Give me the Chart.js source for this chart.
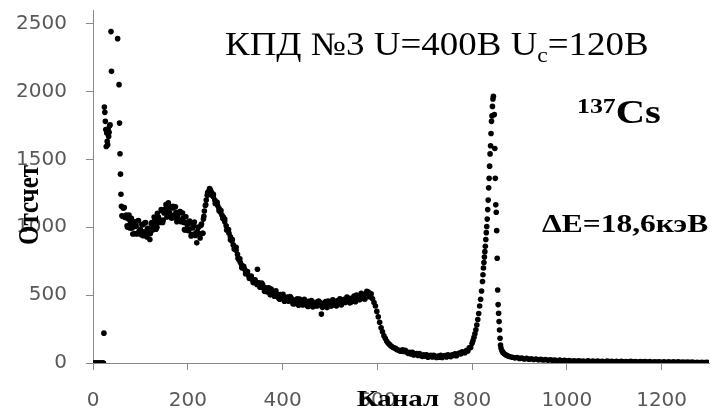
<!DOCTYPE html>
<html>
<head>
<meta charset="utf-8">
<script src="https://cdn.jsdelivr.net/npm/chart.js@4.4.1/dist/chart.umd.min.js"></script>
<style>
    html, body { margin: 0; padding: 0; background: #ffffff; }
    #grafico { width: 714px; height: 410px; }
</style>
</head>
<body>
<div id="grafico"><canvas id="spektr"></canvas></div>
<script>
// channel numbers (x) and counts (y)
var kanaly = [
    1, 3, 5, 7, 9, 11, 13, 15, 17, 19, 21, 22, 23,
    24, 25, 26, 27, 28, 29, 30, 31, 32, 33, 34, 35, 36, 38, 39, 52, 55, 56, 57, 58, 59,
    60, 63, 66, 69, 72, 75, 78, 81, 84, 87, 90, 93, 96, 99, 102, 105, 108, 111, 114, 117,
    120, 123, 126, 129, 132, 135, 138, 141, 144, 147, 150, 153, 156, 159, 162, 165, 168, 171, 174, 177,
    180, 183, 186, 189, 192, 195, 198, 201, 204, 207, 210, 213, 216, 219, 222, 225, 228, 231,
    233, 235, 237, 239, 241, 243, 245, 247, 249, 251, 254, 257, 260, 263, 266, 269, 272, 275, 278,
    281, 284, 287, 290, 293, 296, 299, 302, 305, 308, 311, 314, 317, 320, 323, 326, 329, 332, 335,
    338, 341, 344, 347,
    350, 353, 356, 359, 362, 365, 368, 371, 374, 377, 380, 383, 386, 389, 392, 395, 398, 401, 404,
    407, 410, 413, 416, 419, 422, 425, 428, 431, 434, 437, 440, 443, 446, 449, 452, 455, 458, 461,
    464, 467, 470, 473, 476, 479, 482, 485, 488, 491, 494, 497, 500, 503, 506, 509, 512, 515, 518,
    521, 524, 527, 530, 533, 536, 539, 542, 545, 548, 551, 554, 557, 560, 563, 566, 569, 572, 575,
    578, 581, 584, 587, 590, 593, 596, 599, 602, 605, 608, 611, 614, 617, 620, 623, 626, 629, 632,
    635, 638, 641, 644, 647, 650,
    653, 656, 659, 662, 665, 668, 671, 674, 677, 680, 683, 686, 689, 692, 695, 698, 701, 704, 707,
    710, 713, 716, 719, 722, 725, 728, 731, 734, 737, 740, 743, 746, 749, 752, 755, 758, 761, 764,
    767, 770, 773, 776, 779, 782, 785, 788, 791, 794, 797, 800,
    802, 804, 806, 808, 810, 812, 814, 816, 818, 820, 822, 823, 824, 825, 826, 827, 828, 829, 830,
    831, 832, 833, 834, 835, 836, 837, 838, 839, 840, 841, 842, 843, 844, 845,
    847, 848, 849, 850, 851, 852, 853, 854, 855, 856, 857, 858, 859, 860, 861, 863, 865, 868, 871,
    874, 877, 880,
    885, 890, 895, 900, 905, 910, 915, 920, 925, 930, 935, 940, 945, 950, 955, 960, 965, 970, 975,
    980, 985, 990, 995, 1000, 1005, 1010, 1015, 1020, 1025, 1030, 1035, 1040, 1045, 1050, 1055,
    1060, 1065, 1070, 1075, 1080, 1085, 1090, 1095, 1100, 1105, 1110, 1115, 1120, 1125, 1130, 1135,
    1140, 1145, 1150, 1155, 1160, 1165, 1170, 1175, 1180, 1185, 1190, 1195, 1200, 1205, 1210, 1215,
    1220, 1225, 1230, 1235, 1240, 1245, 1250, 1255, 1260, 1265, 1270, 1275, 1280, 1285, 1290, 1295, 1300
];
var otschety = [
    0, 0, 0, 0, 0, 0, 0, 0, 0, 0, 0, 0, 220,
    1885, 1846, 1780, 1720, 1595, 1694, 1632, 1608, 1723, 1669, 1700, 1748, 1755, 2441, 2148, 2389, 2050, 1767, 1541, 1391, 1243,
    1155, 1080, 1145, 1070, 1010, 1060, 995, 1065, 950, 1005, 1020, 950, 1050, 975, 945, 1018, 966, 1035, 928, 990,
    910, 1025, 980, 1075, 1030, 1000, 1075, 1035, 1130, 1035, 1105, 1135, 1075, 1180, 1105, 1073, 1142, 1088, 1150, 1040,
    1100, 1115, 1040, 1105, 1035, 980, 1035, 975, 1045, 935, 995, 1010, 940, 885, 1000, 950, 1015, 955,
    1060, 1120, 1160, 1200, 1235, 1255, 1270, 1280, 1265, 1250, 1225, 1200, 1185, 1160, 1140, 1110, 1090, 1075, 1040,
    1010, 985, 955, 930, 900, 870, 850, 830, 800, 760, 740, 720, 700, 690, 670, 655, 640, 630, 620,
    610, 600, 595, 690,
    590, 559, 588, 554, 529, 553, 524, 553, 502, 524, 527, 492, 531, 496, 477, 505, 479, 506, 455,
    480, 485, 457, 489, 458, 436, 464, 439, 472, 425, 451, 459, 428, 470, 438, 422, 454, 430, 460,
    412, 439, 447, 422, 456, 427, 360, 439, 416, 452, 408, 438, 449, 420, 465, 435, 424, 459, 438,
    472, 428, 458, 470, 447, 485, 459, 443, 476, 455, 493, 451, 482, 494, 467, 513, 485, 474, 509,
    528, 522, 486, 510, 473, 445, 420, 380, 340, 300, 260, 230, 200, 180, 160, 145, 135, 125, 118,
    112, 108, 100, 96, 90, 86,
    98, 85, 94, 81, 71, 79, 67, 79, 59, 67, 69, 55, 69, 56, 49, 60, 51, 61, 42,
    52, 56, 45, 57, 47, 40, 51, 42, 56, 40, 50, 55, 44, 60, 51, 46, 61, 55, 68,
    53, 66, 73, 66, 83, 77, 75, 91, 89, 112, 115, 145,
    165, 190, 215, 245, 280, 320, 365, 420, 470, 530, 600, 650, 700, 740, 780, 820, 860, 910, 960,
    1005, 1060, 1130, 1200, 1290, 1360, 1450, 1540, 1600, 1690, 1780, 1820, 1890, 1945, 1964,
    1830, 1580, 1360, 1165, 1110, 975, 772, 538, 430, 366, 305, 243, 182, 133, 110, 90, 78, 68, 60,
    55, 50, 46,
    42, 38, 40, 34, 36, 30, 34, 28, 31, 26, 29, 24, 27, 22, 25, 20, 24, 19, 22,
    17, 21, 16, 19, 15, 18, 13, 16, 12, 17, 12, 15, 11, 16, 11, 14,
    10, 15, 10, 13, 9, 14, 10, 12, 9, 13, 8, 12, 9, 11, 8, 12,
    8, 10, 7, 11, 8, 10, 7, 10, 6, 9, 7, 9, 6, 9, 6, 8,
    5, 8, 6, 8, 5, 7, 5, 7, 5, 7, 4, 6, 4, 6, 4, 5, 4
];
// in-between channels of the noisy stretches (the band there is thick)
var kanalyMezhdu = [
    61, 64, 67, 70, 73, 76, 79, 82, 85, 88, 91, 94, 97, 100, 103, 106, 109, 112, 115, 118,
    121, 124, 127, 130, 133, 136, 139, 142, 145, 148, 151, 154, 157, 160, 163, 166, 169, 172, 175, 178,
    181, 184, 187, 190, 193, 196, 199, 202, 205, 208, 211, 214, 217, 220, 223, 226, 229, 232,
    234, 238, 242, 246, 250, 254, 258, 262, 266, 270, 274, 278, 282, 286, 290, 294, 298, 302,
    306, 310, 314, 318, 322, 326, 330, 334, 338, 342, 346,
    352, 358, 364, 370, 376, 382, 388, 394, 400, 406, 412, 418, 424, 430, 436, 442, 448, 454, 460, 466,
    472, 478, 484, 490, 496, 502, 508, 514, 520, 526, 532, 538, 544, 550, 556, 562, 568, 574, 580, 586
];
var otschetyMezhdu = [
    1085, 1140, 1075, 1090, 1000, 1090, 1027, 992, 1042, 953, 1008, 1045, 970, 985, 1020, 937, 1031, 949, 992, 965,
    953, 1035, 1000, 1045, 985, 1103, 1063, 1050, 1123, 1052, 1118, 1167, 1097, 1115, 1150, 1066, 1155, 1070, 1108, 1078,
    1057, 1115, 1050, 1067, 982, 1077, 1017, 982, 1033, 948, 1003, 1038, 958, 968, 1000, 921, 1023, 955,
    1080, 1165, 1255, 1285, 1238, 1243, 1175, 1183, 1122, 1123, 1065, 1060, 980, 983, 908, 910, 839, 852,
    772, 767, 702, 712, 657, 673, 622, 641, 592, 613, 578,
    559, 577, 527, 543, 545, 496, 507, 470, 499, 470, 456, 480, 437, 460, 471, 430, 448, 417, 452, 429,
    420, 449, 410, 440, 456, 422, 445, 421, 462, 447, 445, 479, 447, 480, 500, 468, 494, 471, 514, 491
];
var tikiX = [0, 200, 400, 600, 800, 1000, 1200];
var tikiY = [0, 500, 1000, 1500, 2000, 2500];

var zagolovok = 'КПД №3 U=400В U';
var indeks = 'с';
var zagolovokKonec = '=120В';
var izotopMassa = '137';
var izotop = 'Cs';
var razreshenie = 'ΔE=18,6кэВ';
var podpisX = 'Канал';
var podpisY = 'Отсчет';

var tochki = [];
for (var i = 0; i < kanaly.length; i++) {
    tochki.push({ x: kanaly[i], y: otschety[i] });
}
for (var j = 0; j < kanalyMezhdu.length; j++) {
    tochki.push({ x: kanalyMezhdu[j], y: otschetyMezhdu[j] });
}

var seryi = '#898989';
var shriftTikov = { family: '"DejaVu Sans"', size: 20 };

// horizontally stretched text, the picture is a bit wider than tall
function pisat(ctx, tekst, x, y, shrift, rastyazhka) {
    ctx.save();
    ctx.font = shrift;
    ctx.translate(x, y);
    ctx.scale(rastyazhka, 1);
    ctx.fillText(tekst, 0, 0);
    var shirina = ctx.measureText(tekst).width * rastyazhka;
    ctx.restore();
    return shirina;
}

var nadpisi = {
    id: 'nadpisi',
    afterDraw: function (chart) {
        var ctx = chart.ctx;
        ctx.save();
        ctx.fillStyle = '#000000';
        ctx.textBaseline = 'alphabetic';
        ctx.textAlign = 'left';

        var x = 225;
        x += pisat(ctx, zagolovok, x, 55, '33px "Liberation Serif"', 1.12);
        x += pisat(ctx, indeks, x, 62, '21px "Liberation Serif"', 1.12);
        pisat(ctx, zagolovokKonec, x, 55, '33px "Liberation Serif"', 1.12);

        var w = pisat(ctx, izotopMassa, 577, 113, 'bold 21px "Liberation Serif"', 1.23);
        pisat(ctx, izotop, 577 + w, 123, 'bold 33px "Liberation Serif"', 1.23);

        pisat(ctx, razreshenie, 542, 232, 'bold 25px "Liberation Serif"', 1.26);

        ctx.font = 'bold 24px "Liberation Serif"';
        var wx = ctx.measureText(podpisX).width * 1.2;
        pisat(ctx, podpisX, 398 - wx / 2, 406, 'bold 24px "Liberation Serif"', 1.2);

        ctx.translate(38, 205);
        ctx.scale(1.2, 1);
        ctx.rotate(-Math.PI / 2);
        ctx.textAlign = 'center';
        ctx.font = 'bold 25px "Liberation Serif"';
        ctx.fillText(podpisY, 0, 0);
        ctx.restore();
    }
};

function bezRazdelitelya(v) {
    return String(v);
}

var ctx = document.getElementById('spektr').getContext('2d');
var grafik = new Chart(ctx, {
    type: 'scatter',
    data: {
        datasets: [{
            label: 'Cs-137',
            data: tochki,
            backgroundColor: '#000000',
            borderWidth: 0,
            pointRadius: 2.8
        }]
    },
    options: {
        responsive: true,
        maintainAspectRatio: false,
        animation: false,
        layout: { padding: { top: 10, right: 5, left: 0, bottom: 0 } },
        plugins: {
            legend: { display: false },
            tooltip: { enabled: false }
        },
        scales: {
            x: {
                type: 'linear',
                min: 0,
                max: 1300,
                afterBuildTicks: function (scale) {
                    scale.ticks = tikiX.map(function (v) { return { value: v }; });
                },
                afterFit: function (scale) {
                    scale.height = 47;
                    scale.paddingLeft = 0;
                    scale.paddingRight = 0;
                },
                grid: { drawOnChartArea: false, drawTicks: true, tickLength: 7, color: seryi },
                border: { display: true, color: seryi, width: 1 },
                ticks: { color: '#595959', font: shriftTikov, padding: 19, maxRotation: 0, callback: bezRazdelitelya }
            },
            y: {
                type: 'linear',
                min: 0,
                max: 2600,
                afterBuildTicks: function (scale) {
                    scale.ticks = tikiY.map(function (v) { return { value: v }; });
                },
                afterFit: function (scale) {
                    scale.width = 93;
                    scale.paddingTop = 0;
                    scale.paddingBottom = 0;
                },
                grid: { drawOnChartArea: false, drawTicks: true, tickLength: 7, color: seryi },
                border: { display: true, color: seryi, width: 1 },
                ticks: { color: '#595959', font: shriftTikov, padding: 19, callback: bezRazdelitelya }
            }
        }
    },
    plugins: [nadpisi]
});
</script>
</body>
</html>
